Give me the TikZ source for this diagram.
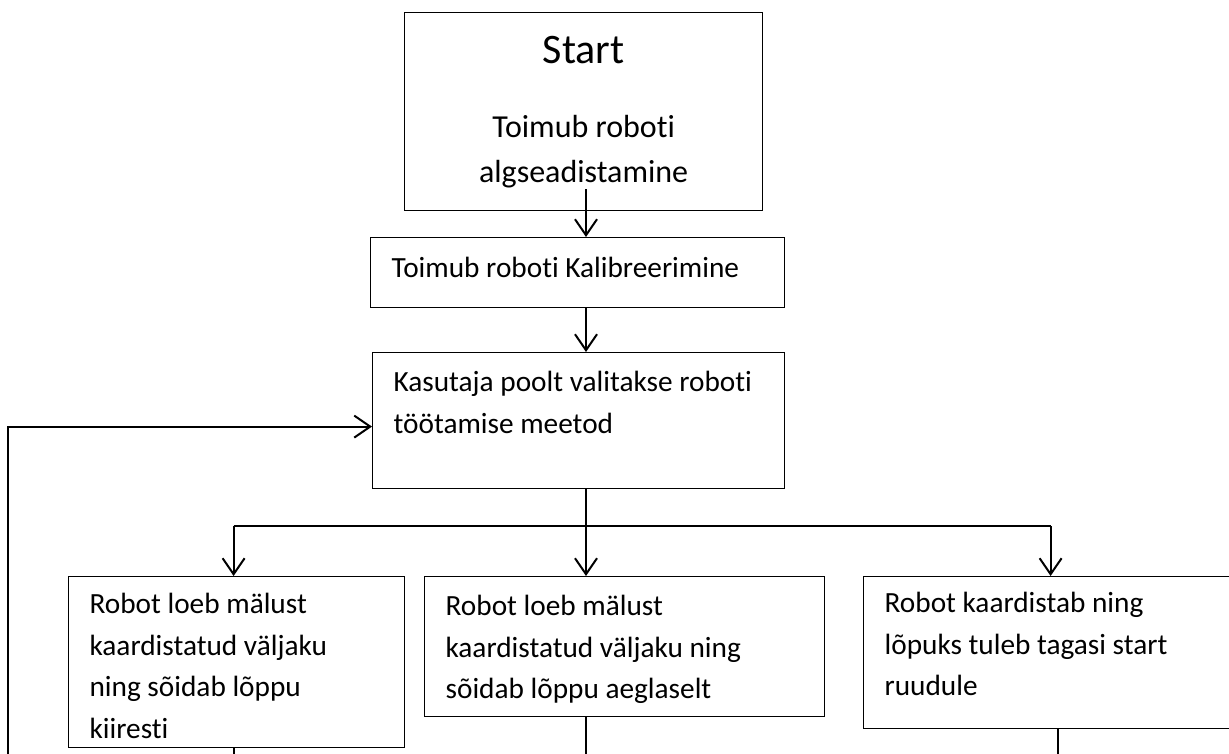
\documentclass[tikz,border=0pt]{standalone}
\usepackage{fontspec}
\setmainfont[Ligatures=NoCommon]{Carlito}
\usetikzlibrary{arrows.meta}
\usetikzlibrary{calc}

\newcommand{\boxtext}[4]{\parbox[c][#2pt][t]{#1pt}{\raggedright\rule{0pt}{#3pt}#4}}

\begin{document}
\begin{tikzpicture}[x=1pt,y=-1pt,>={Straight Barb[length=16pt,width=22pt]},
  stepbox/.style={draw,line width=1.2pt,anchor=north west,inner xsep=21pt,inner ysep=0pt,
    font=\fontsize{29.3}{41.5}\selectfont},
  link/.style={line width=2pt}]

\useasboundingbox (0,0) rectangle (1229,754);

\coordinate (axis) at (586,0);

\node[stepbox] (start) at (404,12) {\parbox[c][198pt][t]{316pt}{\centering
  \rule{0pt}{51pt}{\fontsize{42}{50}\selectfont Start}\par
  \fontsize{32}{45}\selectfont\rule{0pt}{73pt}Toimub roboti\par algseadistamine}};
\node[stepbox] (kalib) at (370,237) {\boxtext{372}{70}{40}{Toimub roboti Kalibreerimine}};
\node[stepbox] (method) at (372,352) {\boxtext{370}{136}{39}{Kasutaja poolt valitakse roboti\\ töötamise meetod}};

\node[stepbox] (fast) at (68,576) {\boxtext{294}{171}{37}{Robot loeb mälust\\ kaardistatud väljaku\\ ning sõidab lõppu\\ kiiresti}};
\node[stepbox] (slow) at (424,576) {\boxtext{358}{140}{39}{Robot loeb mälust\\ kaardistatud väljaku ning\\ sõidab lõppu aeglaselt}};
\node[stepbox] (map) at (863,576) {\boxtext{332}{152}{36}{Robot kaardistab ning\\ lõpuks tuleb tagasi start\\ ruudule}};

% main line
\draw[link,->] ([yshift=22pt]start.south -| axis) -- (kalib.north -| axis);
\draw[link,->] (kalib.south -| axis) -- (method.north -| axis);

% split into three methods
\coordinate (split) at (586,526);
\coordinate (fastin) at ([xshift=-3pt]fast.north);
\draw[link] (method.south -| axis) -- (split);
\draw[link] (fastin |- split) -- (map.north |- split);
\draw[link,->] (fastin |- split) -- (fastin);
\draw[link,->] (split) -- (slow.north -| split);
\draw[link,->] (map.north |- split) -- (map.north);

% lines leaving the boxes
\draw[link] ([xshift=-3pt]fast.south) -- ++(0,20);
\draw[link] (slow.south -| axis) -- ++(0,50);
\draw[link] ([xshift=7pt]map.south) -- ++(0,40);

% back to the choice
\coordinate (back) at (8,760);
\draw[link,->] (back) |- ([yshift=-6pt]method.west);

\end{tikzpicture}
\end{document}
